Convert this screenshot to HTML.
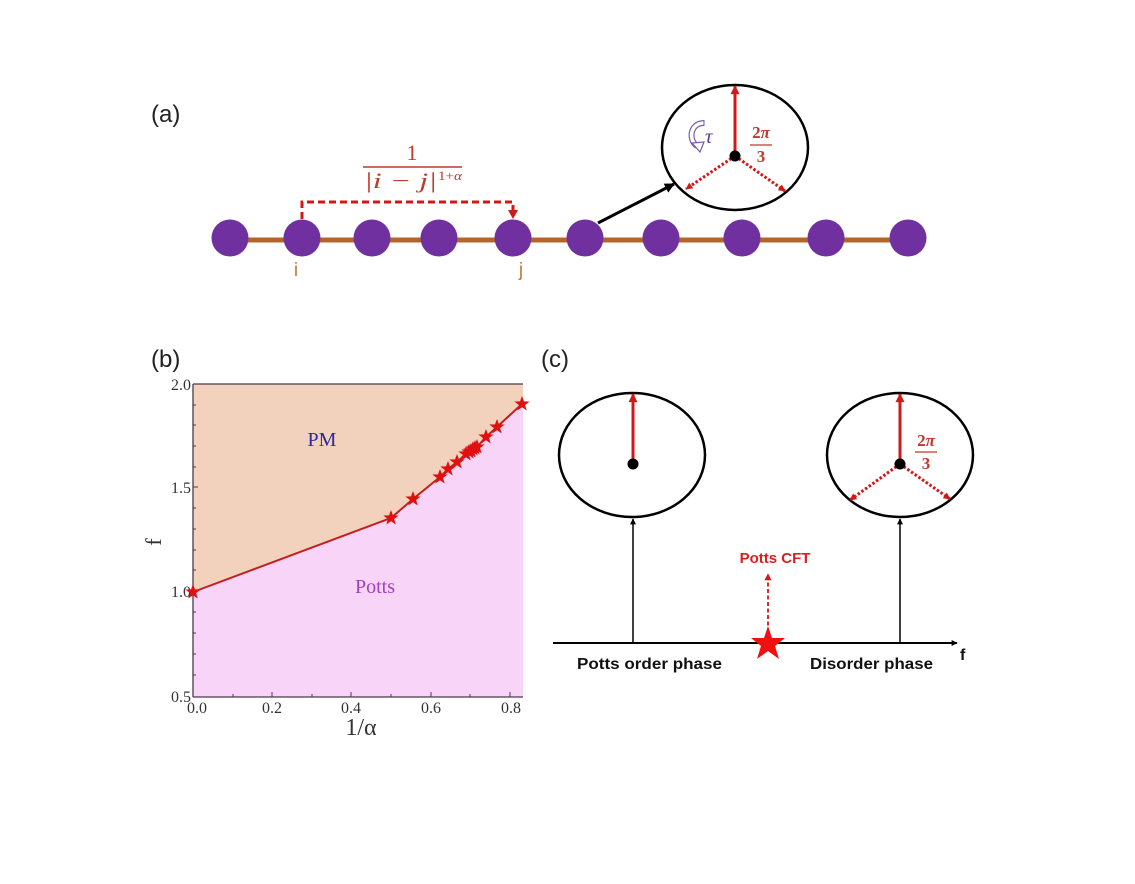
<!DOCTYPE html>
<html><head><meta charset="utf-8"><style>
html,body{margin:0;padding:0;background:#fff;}
svg{display:block;}
</style></head><body>
<svg width="1135" height="884" viewBox="0 0 1135 884" xmlns="http://www.w3.org/2000/svg">
<defs>
<marker id="ar" viewBox="0 0 10 10" refX="9" refY="5" markerWidth="10" markerHeight="9" markerUnits="userSpaceOnUse" orient="auto"><path d="M0,0 L10,5 L0,10 z" fill="#d01818"/></marker>
<marker id="ars" viewBox="0 0 10 10" refX="9" refY="5" markerWidth="8" markerHeight="7" markerUnits="userSpaceOnUse" orient="auto"><path d="M0,0 L10,5 L0,10 z" fill="#d01818"/></marker>
<marker id="ak" viewBox="0 0 10 10" refX="9" refY="5" markerWidth="11" markerHeight="10" markerUnits="userSpaceOnUse" orient="auto"><path d="M0,0 L10,5 L0,10 z" fill="#000"/></marker>
<marker id="aks" viewBox="0 0 10 10" refX="9" refY="5" markerWidth="7" markerHeight="6" markerUnits="userSpaceOnUse" orient="auto"><path d="M0,0 L10,5 L0,10 z" fill="#000"/></marker>
<g id="st"><polygon points="0,-8 2,-2.6 7.7,-2.5 3.1,1 4.7,6.5 0,3.3 -4.7,6.5 -3.1,1 -7.7,-2.5 -2,-2.6" fill="#e01010"/></g>
</defs>

<!-- ===== Panel (a) ===== -->
<text x="151" y="122" font-family="Liberation Sans, sans-serif" font-size="24" fill="#222">(a)</text>

<line x1="230" y1="240" x2="908" y2="240" stroke="#b5652a" stroke-width="5"/>
<g fill="#7030a0">
<circle cx="230" cy="238" r="18.5"/>
<circle cx="302" cy="238" r="18.5"/>
<circle cx="372" cy="238" r="18.5"/>
<circle cx="439" cy="238" r="18.5"/>
<circle cx="513" cy="238" r="18.5"/>
<circle cx="585" cy="238" r="18.5"/>
<circle cx="661" cy="238" r="18.5"/>
<circle cx="742" cy="238" r="18.5"/>
<circle cx="826" cy="238" r="18.5"/>
<circle cx="908" cy="238" r="18.5"/>
</g>
<text x="296" y="276" text-anchor="middle" font-family="Liberation Sans, sans-serif" font-size="19" fill="#c07a3a">i</text>
<text x="521" y="276" text-anchor="middle" font-family="Liberation Sans, sans-serif" font-size="19" fill="#c07a3a">j</text>

<!-- dashed bracket -->
<path d="M302,219 L302,202 L513,202 L513,212" fill="none" stroke="#d01818" stroke-width="3" stroke-dasharray="7,4"/>
<polygon points="508,210 518,210 513,219" fill="#d01818"/>

<!-- fraction -->
<text x="412" y="160" text-anchor="middle" font-family="Liberation Serif, serif" font-size="22" fill="#c0392b">1</text>
<line x1="363" y1="167" x2="462" y2="167" stroke="#c0392b" stroke-width="1.6"/>
<text x="364" y="188" font-family="Liberation Serif, serif" font-style="italic" font-size="22" fill="#c0392b" textLength="73" lengthAdjust="spacingAndGlyphs">|i − j|</text>
<text x="438" y="180" font-family="Liberation Serif, serif" font-size="13" fill="#c0392b" textLength="24" lengthAdjust="spacingAndGlyphs">1+<tspan font-style="italic">α</tspan></text>

<!-- black arrow to circle -->
<line x1="598" y1="223" x2="674" y2="184" stroke="#000" stroke-width="3" marker-end="url(#ak)"/>

<!-- ellipse a -->
<ellipse cx="735" cy="147.5" rx="73" ry="62.5" fill="#fff" stroke="#000" stroke-width="2.5"/>
<line x1="735" y1="156" x2="735" y2="86" stroke="#d01818" stroke-width="3" marker-end="url(#ar)"/>
<line x1="735" y1="156" x2="686" y2="189" stroke="#d01818" stroke-width="3" stroke-dasharray="2.5,2" marker-end="url(#ars)"/>
<line x1="735" y1="156" x2="785" y2="191" stroke="#d01818" stroke-width="3" stroke-dasharray="2.5,2" marker-end="url(#ars)"/>
<circle cx="735" cy="156" r="5.5" fill="#000"/>
<text x="761" y="138" text-anchor="middle" font-family="Liberation Serif, serif" font-weight="bold" font-size="17" fill="#c0392b">2<tspan font-style="italic">π</tspan></text>
<line x1="750" y1="145" x2="772" y2="145" stroke="#c0392b" stroke-width="1.3"/>
<text x="761" y="162" text-anchor="middle" font-family="Liberation Serif, serif" font-weight="bold" font-size="17" fill="#c0392b">3</text>
<!-- tau icon -->
<path d="M704,123 C690,123 688,140 697,146" fill="none" stroke="#7a5aa8" stroke-width="6"/>
<path d="M704,123 C690,123 688,140 697,146" fill="none" stroke="#fff" stroke-width="3.6"/>
<path d="M704,120 L704,126" stroke="#7a5aa8" stroke-width="1"/>
<polygon points="692,143 704,142 700,152" fill="#fff" stroke="#7a5aa8" stroke-width="1.2"/>
<text x="705" y="143" font-family="Liberation Serif, serif" font-style="italic" font-size="21" fill="#6040a0">τ</text>

<!-- ===== Panel (b) ===== -->
<text x="151" y="367" font-family="Liberation Sans, sans-serif" font-size="24" fill="#222">(b)</text>
<!-- regions -->
<polygon points="193,384 523,384 523,403 497,427 486,437 477,447 468,452 457,462 448,469 440,477 413,499 391,518 193,592" fill="#f2d1bd"/>
<polygon points="193,592 391,518 413,499 440,477 448,469 457,462 468,452 477,447 486,437 497,427 523,403 523,697 193,697" fill="#f8d5f8"/>
<!-- axes -->
<line x1="193" y1="384" x2="523" y2="384" stroke="#4a3a4a" stroke-width="1.3"/>
<line x1="193" y1="384" x2="193" y2="697" stroke="#4a3a4a" stroke-width="1.3"/>
<line x1="193" y1="697" x2="523" y2="697" stroke="#4a3a4a" stroke-width="1.3"/>
<g stroke="#4a3a4a" stroke-width="1">
<line x1="233" y1="697" x2="233" y2="694"/>
<line x1="272" y1="697" x2="272" y2="692"/>
<line x1="312" y1="697" x2="312" y2="694"/>
<line x1="351" y1="697" x2="351" y2="692"/>
<line x1="391" y1="697" x2="391" y2="694"/>
<line x1="431" y1="697" x2="431" y2="692"/>
<line x1="470" y1="697" x2="470" y2="694"/>
<line x1="510" y1="697" x2="510" y2="692"/>
<line x1="193" y1="405" x2="196" y2="405"/>
<line x1="193" y1="425" x2="196" y2="425"/>
<line x1="193" y1="446" x2="196" y2="446"/>
<line x1="193" y1="467" x2="196" y2="467"/>
<line x1="193" y1="487" x2="198" y2="487"/>
<line x1="193" y1="508" x2="196" y2="508"/>
<line x1="193" y1="529" x2="196" y2="529"/>
<line x1="193" y1="550" x2="196" y2="550"/>
<line x1="193" y1="570" x2="196" y2="570"/>
<line x1="193" y1="591" x2="198" y2="591"/>
<line x1="193" y1="612" x2="196" y2="612"/>
<line x1="193" y1="633" x2="196" y2="633"/>
<line x1="193" y1="654" x2="196" y2="654"/>
<line x1="193" y1="675" x2="196" y2="675"/>
</g>
<g font-family="Liberation Serif, serif" font-size="16" fill="#333">
<text x="191" y="390" text-anchor="end">2.0</text>
<text x="191" y="493" text-anchor="end">1.5</text>
<text x="191" y="597" text-anchor="end">1.0</text>
<text x="191" y="702" text-anchor="end">0.5</text>
<text x="197" y="713" text-anchor="middle">0.0</text>
<text x="272" y="713" text-anchor="middle">0.2</text>
<text x="351" y="713" text-anchor="middle">0.4</text>
<text x="431" y="713" text-anchor="middle">0.6</text>
<text x="511" y="713" text-anchor="middle">0.8</text>
</g>
<text x="361" y="735" text-anchor="middle" font-family="Liberation Serif, serif" font-size="24" fill="#333">1/α</text>
<text x="0" y="0" transform="translate(161,542) rotate(-90)" text-anchor="middle" font-family="Liberation Serif, serif" font-size="22" fill="#333">f</text>
<!-- line and stars -->
<polyline points="193,592 391,518 413,499 440,477 448,469 457,462 468,452 472,450 477,447 486,437 497,427 523,403" fill="none" stroke="#c02020" stroke-width="2"/>
<use href="#st" x="193" y="592"/>
<use href="#st" x="391" y="518"/>
<use href="#st" x="413" y="499"/>
<use href="#st" x="440" y="477"/>
<use href="#st" x="448" y="469"/>
<use href="#st" x="457" y="462"/>
<use href="#st" x="466" y="454"/>
<use href="#st" x="469" y="452"/>
<use href="#st" x="471" y="451"/>
<use href="#st" x="473" y="449"/>
<use href="#st" x="475" y="448"/>
<use href="#st" x="477" y="447"/>
<use href="#st" x="486" y="437"/>
<use href="#st" x="497" y="427"/>
<use href="#st" x="522" y="404"/>
<text x="322" y="446" text-anchor="middle" font-family="Liberation Serif, serif" font-size="20" fill="#2a2a9a">PM</text>
<text x="375" y="593" text-anchor="middle" font-family="Liberation Serif, serif" font-size="20" fill="#a040c0">Potts</text>

<!-- ===== Panel (c) ===== -->
<text x="541" y="367" font-family="Liberation Sans, sans-serif" font-size="24" fill="#222">(c)</text>
<ellipse cx="632" cy="455" rx="73" ry="62" fill="#fff" stroke="#000" stroke-width="2.5"/>
<line x1="633" y1="464" x2="633" y2="394" stroke="#d01818" stroke-width="3" marker-end="url(#ar)"/>
<circle cx="633" cy="464" r="5.5" fill="#000"/>

<ellipse cx="900" cy="455" rx="73" ry="62" fill="#fff" stroke="#000" stroke-width="2.5"/>
<line x1="900" y1="464" x2="900" y2="394" stroke="#d01818" stroke-width="3" marker-end="url(#ar)"/>
<line x1="900" y1="464" x2="850" y2="500" stroke="#d01818" stroke-width="3" stroke-dasharray="2.5,2" marker-end="url(#ars)"/>
<line x1="900" y1="464" x2="950" y2="499" stroke="#d01818" stroke-width="3" stroke-dasharray="2.5,2" marker-end="url(#ars)"/>
<circle cx="900" cy="464" r="5.5" fill="#000"/>
<text x="926" y="446" text-anchor="middle" font-family="Liberation Serif, serif" font-weight="bold" font-size="17" fill="#c0392b">2<tspan font-style="italic">π</tspan></text>
<line x1="915" y1="452" x2="937" y2="452" stroke="#c0392b" stroke-width="1.3"/>
<text x="926" y="469" text-anchor="middle" font-family="Liberation Serif, serif" font-weight="bold" font-size="17" fill="#c0392b">3</text>

<line x1="633" y1="643" x2="633" y2="519" stroke="#000" stroke-width="1.5" marker-end="url(#aks)"/>
<line x1="900" y1="643" x2="900" y2="519" stroke="#000" stroke-width="1.5" marker-end="url(#aks)"/>
<line x1="553" y1="643" x2="957" y2="643" stroke="#000" stroke-width="2" marker-end="url(#aks)"/>
<text x="960" y="660" font-family="Liberation Sans, sans-serif" font-weight="bold" font-size="16" fill="#111">f</text>

<line x1="768" y1="632" x2="768" y2="574" stroke="#d01818" stroke-width="1.8" stroke-dasharray="4,2.5" marker-end="url(#ars)"/>
<polygon points="768,626 772,638 785,638 775,646 779,659 768,651 757,659 761,646 751,638 764,638" fill="#f01010"/>
<text x="775" y="563" text-anchor="middle" font-family="Liberation Sans, sans-serif" font-weight="bold" font-size="15" fill="#d82020">Potts CFT</text>
<text x="577" y="669" font-family="Liberation Sans, sans-serif" font-weight="bold" font-size="16" fill="#111" textLength="145" lengthAdjust="spacingAndGlyphs">Potts order phase</text>
<text x="810" y="669" font-family="Liberation Sans, sans-serif" font-weight="bold" font-size="16" fill="#111" textLength="123" lengthAdjust="spacingAndGlyphs">Disorder phase</text>
</svg>
</body></html>
